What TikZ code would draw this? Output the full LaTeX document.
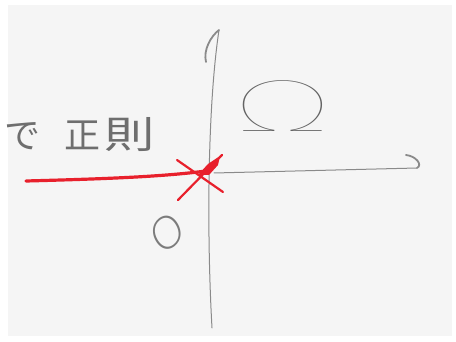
\documentclass[tikz,border=0pt]{standalone}
\usepackage{fontspec}
\newfontfamily\jp{Noto Sans CJK JP}
\newcommand\pickfont[3]{\IfFontExistsTF{#2}{\newfontfamily#1{#2}}{#3}}
\pickfont\thinf{Lato Thin}{%
 \pickfont\thinf{Lato Hairline}{%
  \pickfont\thinf{Fira Sans ExtraLight}{%
   \pickfont\thinf{DejaVu Sans ExtraLight}{%
    \pickfont\thinf{Open Sans Light}{%
     \newfontfamily\thinf{DejaVu Sans}}}}}}
\pickfont\lightf{Lato Light}{%
 \pickfont\lightf{Fira Sans Light}{%
  \pickfont\lightf{Open Sans Light}{%
   \pickfont\lightf{DejaVu Sans ExtraLight}{%
    \newfontfamily\lightf{DejaVu Sans}}}}}
\definecolor{pencil}{HTML}{8A8A8A}
\definecolor{ink}{HTML}{6E6E6E}
\definecolor{redpen}{HTML}{E8202C}
\definecolor{paper}{HTML}{F5F5F5}
\tikzset{
  axisline/.style={draw=pencil, line width=1pt, line cap=round},
  hook/.style={draw=pencil, line width=1.8pt, line cap=round},
  redline/.style={draw=redpen, line width=3.2pt, line cap=round},
  redcross/.style={draw=redpen, line width=2.2pt, line cap=round},
  lbl/.style={text=ink, inner sep=0pt}
}
\begin{document}
\begin{tikzpicture}[x=1pt,y=-1pt]
\useasboundingbox (0,0) rectangle (456,342);
\fill[white] (0,0) rectangle (456,342);
\fill[paper] (8,5) rectangle (452,336);
% axes
\coordinate (ybot) at (212,328);
\coordinate (ytop) at (219,30);
\coordinate (xleft) at (214,173);
\coordinate (xright) at (417,168);
\coordinate (O) at (206,171);
\draw[axisline] (ybot) .. controls (207,240) and (207,110) .. (ytop);
\draw[hook] (ytop) .. controls (211,36) and (203,50) .. (206,62);
\draw[axisline] (xleft) -- (xright);
\draw[hook] (406,155) .. controls (416,156) and (423,165) .. (xright);
% red branch cut
\coordinate (cutend) at (26,181);
\draw[redline] (cutend) .. controls (100,179) and (160,177) .. (O);
\draw[redcross] (177,160) -- (223,192);
\draw[redcross] (178,200) -- (222,155);
\fill[redpen] (O) ++(-8,4) -- ++(10,-11) -- ++(12,-8) -- ++(-2,9) -- ++(-9,10) -- cycle;
% labels
\node[lbl, anchor=west, font=\jp\fontsize{36}{36}\selectfont] (txt) at (4,135) {で\hspace{24pt}正\hspace{4pt}\scalebox{1.4}[1.05]{則}};
\node[lbl, font=\thinf\fontsize{72}{72}\selectfont, xscale=1.7, text=ink!90!black] (omega) at (283,106) {Ω};
\node[lbl, font=\lightf\fontsize{46}{46}\selectfont, xscale=0.85, rotate=35, text=ink!90] (zero) at (167,233) {O};
\end{tikzpicture}
\end{document}
